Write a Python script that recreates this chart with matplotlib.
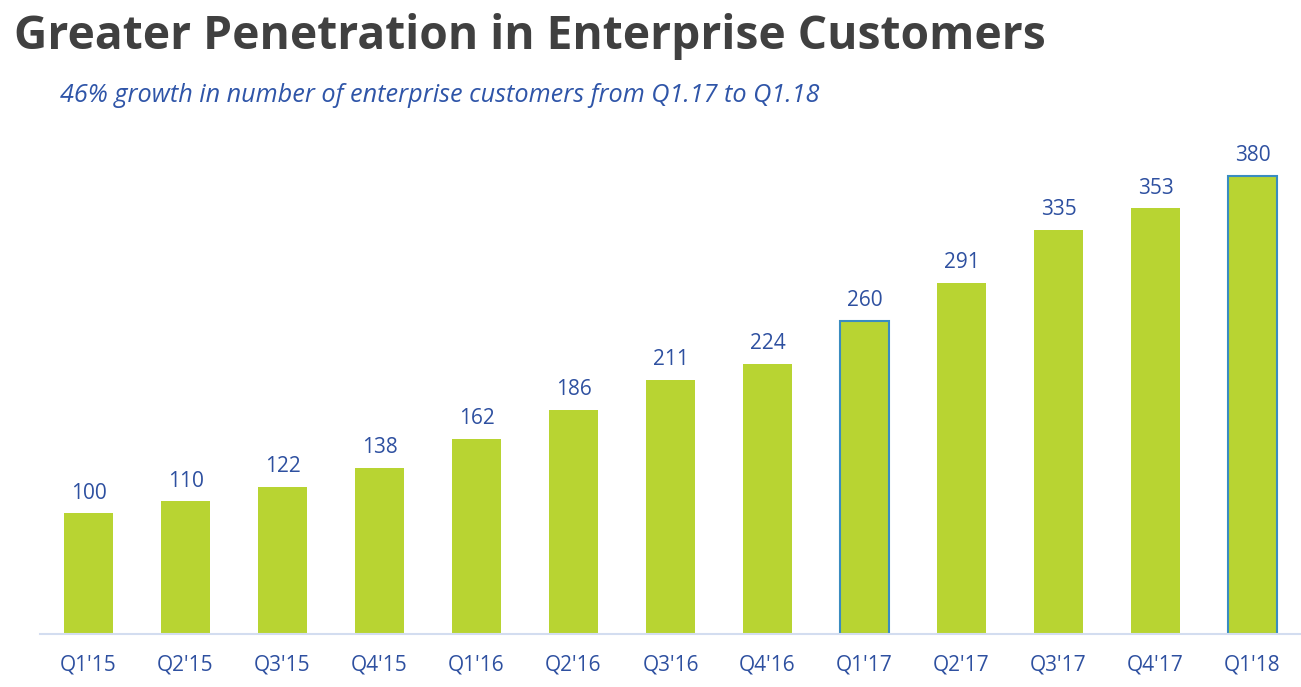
import matplotlib.pyplot as plt

# Data
quarters = ["Q1'15", "Q2'15", "Q3'15", "Q4'15", "Q1'16", "Q2'16", "Q3'16",
            "Q4'16", "Q1'17", "Q2'17", "Q3'17", "Q4'17", "Q1'18"]
customers = [100, 110, 122, 138, 162, 186, 211, 224, 260, 291, 335, 353, 380]
highlighted = ["Q1'17", "Q1'18"]

bar_color = "#B8D432"
label_color = "#2E50A0"

fig = plt.figure(figsize=(13.01, 6.87), dpi=100)
ax = fig.add_axes([40 / 1301, 53 / 687, 1261 / 1301, 504 / 687])

x = range(len(quarters))
bars = ax.bar(x, customers, width=0.5, color=bar_color, zorder=2)
for b, q in zip(bars, quarters):
    if q in highlighted:
        b.set_edgecolor("#3A8CC0")
        b.set_linewidth(1.5)

for xi, v in zip(x, customers):
    ax.text(xi, v + 8, str(v), ha="center", va="bottom",
            fontsize=15, color=label_color, family="Open Sans")

ax.set_xlim(-0.5, 12.5)
ax.set_ylim(0, 418)
ax.set_xticks(list(x))
ax.set_xticklabels(quarters, fontsize=15, color=label_color, family="Open Sans")
ax.tick_params(axis="x", length=0, pad=15)
ax.set_yticks([])
for s in ["top", "right", "left"]:
    ax.spines[s].set_visible(False)
ax.spines["bottom"].set_color("#D3DDF0")
ax.spines["bottom"].set_linewidth(1.5)

fig.text(14 / 1301, 1 - 36 / 687, "Greater Penetration in Enterprise Customers",
         fontsize=33.2, fontweight="bold", color="#404040", va="center",
         family="Open Sans")
fig.text(60 / 1301, 1 - 96 / 687,
         "46% growth in number of enterprise customers from Q1.17 to Q1.18",
         fontsize=18.2, style="italic", color="#2F55A8", va="center",
         family="Open Sans")

fig.savefig("out.png", dpi=100)
